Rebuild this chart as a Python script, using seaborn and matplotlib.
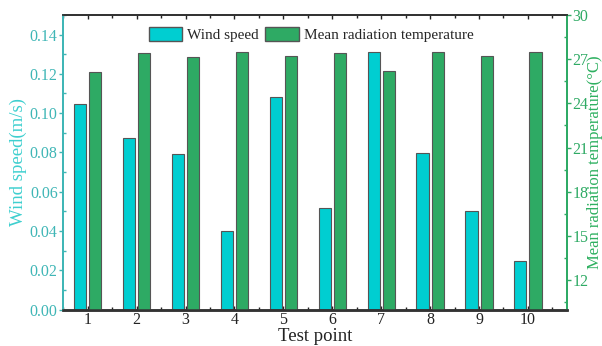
import numpy as np
import pandas as pd
import matplotlib
matplotlib.use("Agg")
import matplotlib.pyplot as plt
from matplotlib.ticker import MultipleLocator
from matplotlib.patches import Patch
import seaborn as sns

sns.set_theme(style="white")
plt.rcParams['font.family'] = ['Liberation Serif', 'DejaVu Serif']

test_points = ["1", "2", "3", "4", "5", "6", "7", "8", "9", "10"]
wind_speed = [0.1048, 0.0871, 0.0790, 0.0400, 0.1080, 0.0518, 0.1310, 0.0795, 0.0504, 0.0248]
mrt = [26.15, 27.40, 27.17, 27.50, 27.22, 27.44, 26.20, 27.50, 27.20, 27.50]

series = ["Wind speed", "Mean radiation temperature"]
c_wind = "#00CED1"
c_mrt = "#2EAA64"
c_left = "#3FB6B6"
c_right = "#2EAA64"

df_w = pd.DataFrame({"pt": test_points * 2,
                     "series": [series[0]] * 10 + [series[1]] * 10,
                     "val": wind_speed + [np.nan] * 10})
df_t = pd.DataFrame({"pt": test_points * 2,
                     "series": [series[0]] * 10 + [series[1]] * 10,
                     "val": [np.nan] * 10 + mrt})

fig, ax1 = plt.subplots(figsize=(6.02, 3.46), dpi=100)
fig.subplots_adjust(left=0.105, right=0.942, top=0.957, bottom=0.105)
ax2 = ax1.twinx()

kw = dict(x="pt", y="val", hue="series", hue_order=series, order=test_points,
          palette=[c_wind, c_mrt], width=0.62, gap=0.2, edgecolor="#555555",
          linewidth=0.8, legend=False, saturation=1)
sns.barplot(data=df_w, ax=ax1, **kw)
sns.barplot(data=df_t, ax=ax2, **kw)

ax1.set_xlim(-0.5, 9.8)
ax1.set_ylim(0, 0.15)
ax2.set_ylim(10, 30)

ax1.yaxis.set_major_locator(MultipleLocator(0.02))
ax1.yaxis.set_minor_locator(MultipleLocator(0.01))
ax1.yaxis.set_major_formatter(matplotlib.ticker.FormatStrFormatter("%.2f"))
ax2.set_yticks([12, 15, 18, 21, 24, 27, 30])
ax2.yaxis.set_minor_locator(MultipleLocator(1.5))
ax1.xaxis.set_minor_locator(MultipleLocator(0.5))

fs_tick = 11.5
fs_lab = 13.5
ax1.tick_params(axis="y", which="major", direction="out", length=3, width=1,
                colors=c_left, labelsize=fs_tick, pad=1)
ax1.tick_params(axis="y", which="minor", direction="in", length=2, width=1, colors=c_left)
ax1.tick_params(axis="x", which="major", direction="in", length=3, width=1,
                colors="#222222", labelsize=fs_tick, pad=2, top=True, bottom=True)
ax1.tick_params(axis="x", which="minor", direction="in", length=2, width=1,
                colors="#222222", top=True, bottom=True)
ax1.tick_params(axis="x", labelcolor="#222222")
ax2.tick_params(axis="y", which="major", direction="out", length=3, width=1,
                colors=c_right, labelsize=fs_tick, pad=1)
ax2.tick_params(axis="y", which="minor", direction="in", length=2, width=1, colors=c_right)

ax1.set_xlabel("Test point", fontsize=fs_lab, color="#222222", labelpad=0)
ax1.set_ylabel("Wind speed(m/s)", fontsize=fs_lab, color="#3ECFCF", labelpad=2)
ax2.set_ylabel("Mean radiation temperature(°C)", fontsize=12, color="#2EB060", labelpad=-1)

for ax in (ax1, ax2):
    ax.spines["left"].set_color(c_left)
    ax.spines["right"].set_color(c_right)
    ax.spines["top"].set_color("#333333")
    ax.spines["bottom"].set_color("#333333")
    for s in ax.spines.values():
        s.set_linewidth(1.3)
    ax.spines["bottom"].set_linewidth(1.8)

handles = [Patch(facecolor=c_wind, edgecolor="#555555", label=series[0]),
           Patch(facecolor=c_mrt, edgecolor="#555555", label=series[1])]
ax2.legend(handles=handles, loc="upper center", bbox_to_anchor=(0.492, 0.99), ncol=2,
           frameon=False, fontsize=11, handlelength=2.2, handleheight=1.0,
           columnspacing=0.4, handletextpad=0.33, borderaxespad=0.2)

fig.savefig("out.png", dpi=100)
